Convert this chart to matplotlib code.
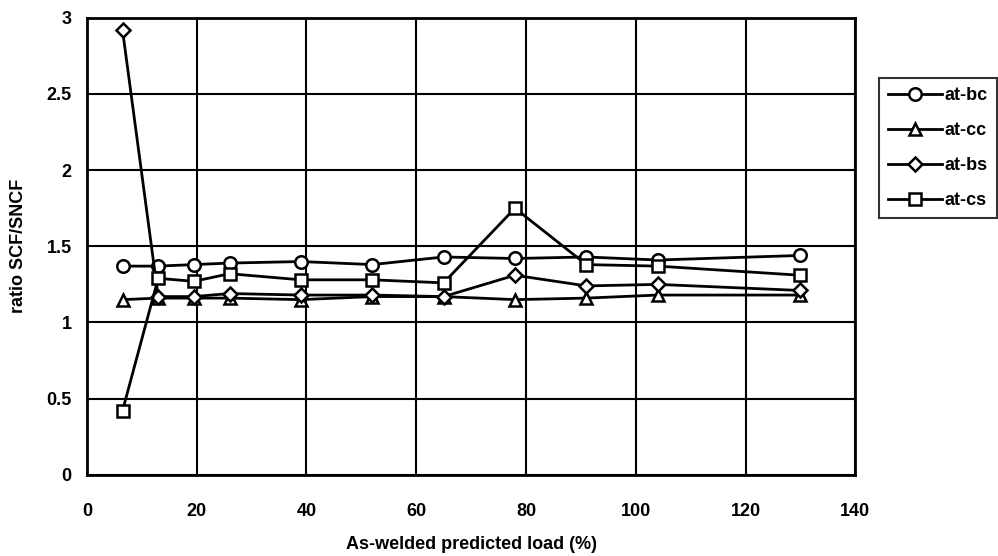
import matplotlib.pyplot as plt

plt.rcParams['font.family'] = ['Liberation Sans', 'DejaVu Sans']
plt.rcParams['font.weight'] = 'bold'

# load levels (%)
load = [6.5, 13, 19.5, 26, 39, 52, 65, 78, 91, 104, 130]

# ratio SCF/SNCF for each location
at_bc = [1.37, 1.37, 1.38, 1.39, 1.40, 1.38, 1.43, 1.42, 1.43, 1.41, 1.44]
at_cc = [1.15, 1.16, 1.16, 1.16, 1.15, 1.17, 1.17, 1.15, 1.16, 1.18, 1.18]
at_bs = [2.92, 1.17, 1.17, 1.19, 1.18, 1.18, 1.17, 1.31, 1.24, 1.25, 1.21]
at_cs = [0.42, 1.29, 1.27, 1.32, 1.28, 1.28, 1.26, 1.75, 1.38, 1.37, 1.31]

series = [("at-bc", at_bc, "o"), ("at-cc", at_cc, "^"),
          ("at-bs", at_bs, "D"), ("at-cs", at_cs, "s")]

fig = plt.figure(figsize=(9.98, 5.56), dpi=100)
ax = fig.add_axes([0.087, 0.146, 0.770, 0.822])

for name, vals, m in series:
    ms = 7 if m == "D" else 9
    ax.plot(load, vals, color="black", linewidth=2, marker=m, markersize=ms,
            markerfacecolor="white", markeredgecolor="black",
            markeredgewidth=1.8, label=name)

ax.set_xlim(0, 140)
ax.set_ylim(0, 3)
ax.set_xticks(range(0, 141, 20))
ax.set_yticks([0, 0.5, 1, 1.5, 2, 2.5, 3])
ax.set_yticklabels(["0", "0.5", "1", "1.5", "2", "2.5", "3"])
ax.grid(True, color="black", linewidth=1.5)
ax.tick_params(length=0, labelsize=13)
ax.tick_params(axis="x", pad=20)
ax.tick_params(axis="y", pad=11)
for s in ax.spines.values():
    s.set_linewidth(2)

ax.set_xlabel("As-welded predicted load (%)", fontsize=13, fontweight="bold", labelpad=12)
ax.set_ylabel("ratio SCF/SNCF", fontsize=13, fontweight="bold", labelpad=14)

leg = fig.legend(loc="upper left", bbox_to_anchor=(879 / 998, 1 - 78 / 556),
                 fontsize=13, frameon=True, fancybox=False, borderaxespad=0,
                 handlelength=3.0, labelspacing=1.0, handletextpad=0.15,
                 borderpad=0.5)
leg.get_frame().set_edgecolor("black")
leg.get_frame().set_linewidth(1.5)

fig.savefig("out.png", dpi=100)
